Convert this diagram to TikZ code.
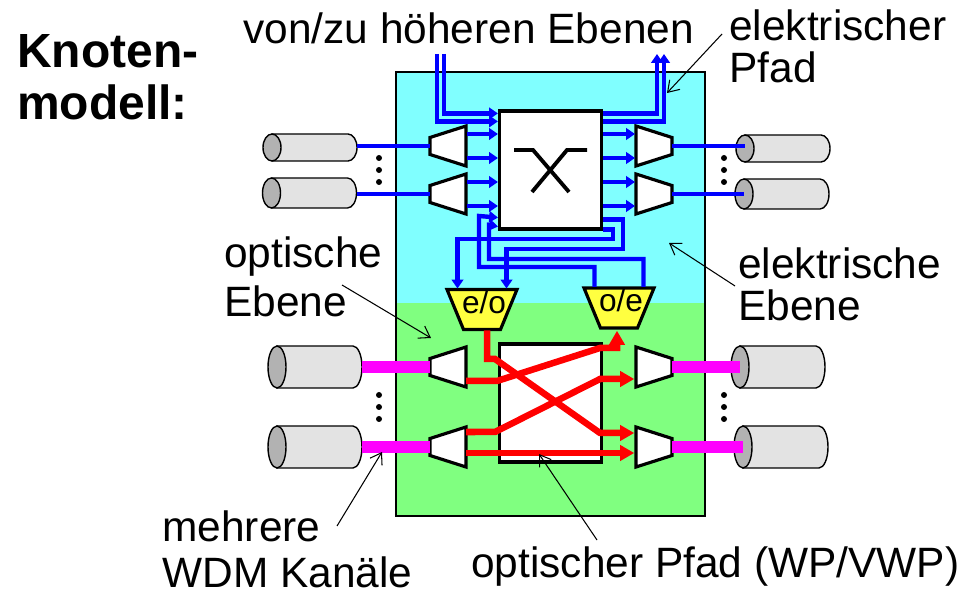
\documentclass[tikz,border=0pt]{standalone}
\usepackage{fontspec}
\setmainfont{Liberation Sans}
\usetikzlibrary{arrows.meta}
\definecolor{elcol}{HTML}{80FFFF}
\definecolor{opcol}{HTML}{80FF80}
\definecolor{convcol}{HTML}{FFFF40}
\definecolor{cylcol}{HTML}{E3E3E3}
\definecolor{cylend}{HTML}{B2B2B2}
\definecolor{wdmcol}{HTML}{FF00FF}
\tikzset{
  txt/.style={inner sep=0pt,anchor=base west,align=left,font=\fontsize{24.15}{24}\selectfont},
  box/.style={draw,fill=white,line width=1.8pt,minimum width=2.04cm,inner sep=0pt},
  bluearr/.style={blue,line width=2.5pt,-{Triangle[length=5pt,width=6.5pt]}},
  redarr/.style={red,line width=3.7pt,-{Triangle[length=8pt,width=8.6pt]},shorten >=1pt},
  thinarr/.style={line width=.6pt,-{Straight Barb[length=6pt,width=8pt]}},
  demuxl/.pic={
    \draw[fill=white,line width=1.8pt] (-18,-8.5) -- (18,-20) -- (18,20) -- (-18,8.5) --cycle;
    \coordinate (-in) at (-18,0); \coordinate (-o) at (18,0);
    \coordinate (-a) at (19,-12); \coordinate (-b) at (19,12);
  },
  demuxr/.pic={
    \draw[fill=white,line width=1.8pt] (18,-8.5) -- (-18,-20) -- (-18,20) -- (18,8.5) --cycle;
    \coordinate (-in) at (18,0); \coordinate (-o) at (-18,0);
    \coordinate (-a) at (-19,-12); \coordinate (-b) at (-19,12);
  },
  pics/conv/.style args={#1}{code={
    \draw[fill=convcol,line width=1.8pt] (-35,-20) -- (35,-20) -- (18.5,20) -- (-18.5,20) --cycle;
    \node[inner sep=0pt,anchor=base,font=\fontsize{18}{20}\selectfont] (-t) at (2,4) {#1};
    \coordinate (-a) at (-24.5,-21); \coordinate (-b) at (24.5,-21);
    \coordinate (-s) at (0,21);
  }},
  pics/fibre/.style args={#1}{code={
    \draw[fill=cylcol,line width=.8pt] (-38,-#1) -- (38,-#1) arc[start angle=-90,end angle=90,x radius=9,y radius=#1] -- (-38,#1) --cycle;
    \draw[fill=cylend,line width=.8pt] (-38,0) ellipse[x radius=9,y radius=#1];
    \coordinate (-c) at (-38,0); \coordinate (-e) at (47,0);
  }},
}
\begin{document}
\begin{tikzpicture}[x=.02cm,y=-.02cm]
  \useasboundingbox (0,0) rectangle (963,590);
  % Ebenen
  \fill[elcol] (396,72) rectangle (705,303);
  \fill[opcol] (396,303) rectangle (705,516);
  \draw[line width=1.6pt] (396,72) rectangle (705,516);
  % Schalter
  \node[box,minimum height=2.36cm] (elsw) at (550.5,170) {};
  \node[box,minimum height=2.36cm] (opsw) at (550.5,403) {};
  \draw[line width=2.2pt] (514,150) -- (533,150) -- (569,192) (587,150) -- (567,150) -- (532,192);
  % Fasern
  \pic (fa) at (310,147.5) {fibre={13.5}};
  \pic (fb) at (309.5,193) {fibre={15}};
  \pic (fc) at (783,148.5) {fibre={13.5}};
  \pic (fd) at (782,194) {fibre={15}};
  \pic (fe) at (315,367) {fibre={21}};
  \pic (ff) at (315,447) {fibre={21}};
  \pic (fg) at (778,367) {fibre={21}};
  \pic (fh) at (781,447) {fibre={21}};
  % Multiplexer
  \pic (da) at (448,146) {demuxl};
  \pic (db) at (448,194) {demuxl};
  \pic (dc) at (654,146) {demuxr};
  \pic (dd) at (654,194) {demuxr};
  \pic (de) at (448,367) {demuxl};
  \pic (df) at (448,447) {demuxl};
  \pic (dg) at (654,367) {demuxr};
  \pic (dh) at (654,447) {demuxr};
  \pic (eo) at (482,309.5) {conv={e/o}};
  \pic (oe) at (619,308) {conv={o/e}};
  % Fasern anschliessen
  \foreach \f/\d in {fa/da,fb/db} \draw[blue,line width=2.5pt] (\d-in -| \f-e) -- (\d-in);
  \foreach \f/\d in {fc/dc,fd/dd} \draw[blue,line width=2.5pt] (\d-in) -- (\d-in -| \f-c);
  \foreach \f/\d in {fe/de,ff/df} \draw[wdmcol,line width=6.8pt] (\d-in -| \f-e) -- (\d-in);
  \foreach \f/\d in {fg/dg,fh/dh} \draw[wdmcol,line width=6.8pt] (\d-in) -- (\d-in -| \f-c);
  % elektrischer Pfad
  \foreach \d in {da,db} \foreach \p in {a,b} \draw[bluearr] (\d-\p) -- (\d-\p -| elsw.west);
  \foreach \d in {dc,dd} \foreach \p in {a,b} \draw[bluearr] (\d-\p -| elsw.east) -- (\d-\p);
  \coordinate (upa) at (437,54);
  \coordinate (upb) at (444,54);
  \coordinate (upc) at (657,54);
  \coordinate (upd) at (664,54);
  \draw[bluearr] (upa) |- ([yshift=-.24cm]elsw.north west);
  \draw[bluearr] (upb) |- ([yshift=-.08cm]elsw.north west);
  \draw[bluearr] ([yshift=-.08cm]elsw.north east) -| (upc);
  \draw[bluearr] ([yshift=-.24cm]elsw.north east) -| (upd);
  \draw[bluearr] (oe-a) -- ++(0,-20) -| (479,216) -- ([yshift=.26cm]elsw.south west);
  \draw[bluearr] (oe-b) -- ++(0,-28) -| (489,225) -- ([yshift=.08cm]elsw.south west);
  \draw[bluearr] ([yshift=.22cm]elsw.south east) -| (623,249) -| (eo-b);
  \draw[bluearr] ([yshift=.02cm]elsw.south east) -| (613,239) -| (eo-a);
  % optischer Pfad
  \draw[redarr] ([yshift=-.28cm]de-o) -- (497,381) -- (600,348) -| ([xshift=-.04cm]oe-s);
  \draw[redarr] ([yshift=.3cm]df-o) -- (495,432) -- (600,379) -- ([yshift=-.24cm]dg-o);
  \draw[redarr] ([yshift=-.12cm]df-o) -- ([yshift=-.12cm]dh-o);
  \draw[redarr] ([xshift=.1cm]eo-s) |- (495,359) -- (600,433) -- ([yshift=.28cm]dh-o);
  % Punkte
  \foreach \x in {379,724} \foreach \y in {158,170,182,395,407,419} \fill (\x,\y) circle (3);
  % Beschriftung
  \node[txt,font=\fontsize{27.3}{30}\selectfont\bfseries] (knoten) at (17,120) {Knoten-\\modell:};
  \node[txt] (hoeher) at (243,44) {von/zu höheren Ebenen};
  \node[txt] (elpfad) at (729,83) {elektrischer\\Pfad};
  \node[txt] (elebene) at (738,321) {elektrische\\Ebene};
  \node[txt] (opebene) at (224,317) {optische\\[4pt]Ebene};
  \node[txt] (wdm) at (162,587) {mehrere\\[2pt]WDM Kanäle};
  \node[txt] (oppfad) at (471,578) {optischer Pfad (WP/VWP)};
  % Hinweispfeile
  \coordinate (ta) at (722,34);  \coordinate (ha) at (667,93);
  \coordinate (tb) at (735,286); \coordinate (hb) at (669,243);
  \coordinate (tc) at (342,285); \coordinate (hc) at (431,338);
  \coordinate (td) at (337,526); \coordinate (hd) at (382,452);
  \coordinate (te) at (597,540); \coordinate (he) at (539,454);
  \foreach \n in {a,b,c,d,e} \draw[thinarr] (t\n) -- (h\n);
\end{tikzpicture}
\end{document}
